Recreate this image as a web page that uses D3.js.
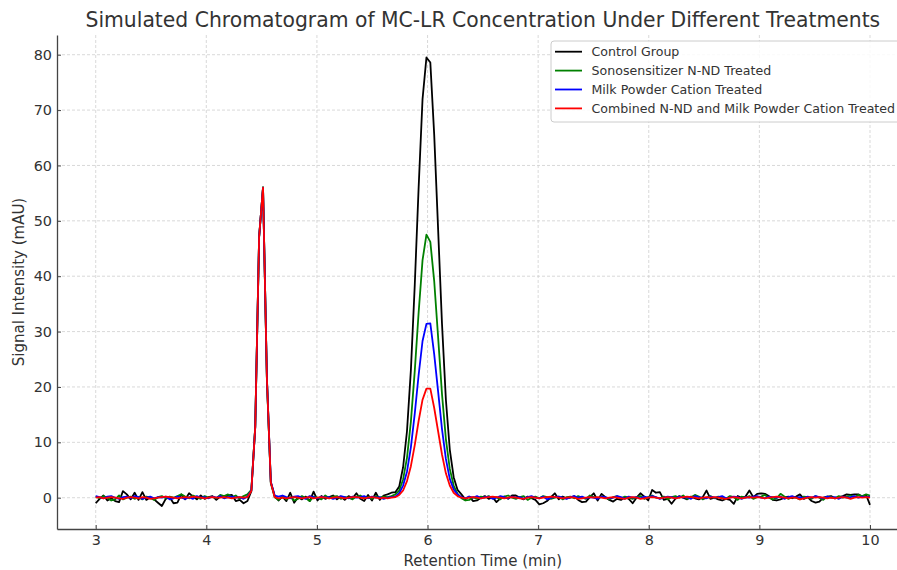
<!DOCTYPE html>
<html>
<head>
<meta charset="utf-8">
<script src="https://cdn.jsdelivr.net/npm/d3@7"></script>
<style>
  body { margin: 0; background: #fff; }
  svg { display: block; font-family: "DejaVu Sans", sans-serif; }
</style>
</head>
<body>
<div id="chart"></div>
<script>
// sampling window (min) - samples are evenly spaced between these
const startTime = 3;
const endTime = 10;

const xTicks = [3, 4, 5, 6, 7, 8, 9, 10];
const yTicks = [0, 10, 20, 30, 40, 50, 60, 70, 80];

const seriesNames = [
  "Control Group",
  "Sonosensitizer N-ND Treated",
  "Milk Powder Cation Treated",
  "Combined N-ND and Milk Powder Cation Treated"
];
const seriesColors = ["#000000", "#008000", "#0000ff", "#ff0000"];

// signal (mAU), one value per sample
const control = [
  -1.0, -0.2, 0.4, -0.5, -0.1, -0.6, -0.8, 1.2, 0.6, -0.3,
  0.9, -0.4, 1.0, -0.4, 0.1, -0.3, -0.9, -1.5, -0.2, 0.1,
  -1.0, -0.9, 0.6, -0.3, 0.8, 0.2, -0.3, 0.4, -0.2, 0.1,
  0.3, -0.4, 0.2, 0.0, 0.4, 0.5, -0.6, -0.4, -1.0, -0.6,
  1.2, 12.8, 47.2, 56.0, 21.5, 2.8, 0.3, -0.5, 0.2, -0.6,
  0.9, -0.9, 0.1, -0.3, 0.2, -0.6, 1.1, -0.5, 0.3, -0.2,
  0.1, 0.4, -0.3, 0.2, -0.4, 0.3, -0.1, 0.8, -0.2, -0.6,
  0.5, -0.5, 0.9, -0.4, 0.4, 0.6, 0.9, 1.0, 2.0, 5.5,
  12.0, 23.0, 38.4, 56.1, 72.0, 79.5, 78.6, 65.5, 48.5, 31.4,
  17.7, 8.7, 3.7, 1.4, 0.6, -0.3, 0.2, -0.6, -0.5, 0.0,
  0.3, -0.2, 0.1, -0.8, -0.1, 0.2, -0.2, 0.4, 0.4, 0.0,
  -0.3, 0.2, -0.1, -0.4, -1.2, -1.0, -0.6, 0.1, 0.8, -0.3,
  0.2, -0.1, 0.0, 0.3, -0.4, -0.8, -0.7, 0.1, 0.8, -0.5,
  0.7, 0.1, -0.4, -0.7, -0.2, -0.4, 0.1, -0.2, -1.0, 0.0,
  0.8, 0.2, -0.5, 1.4, 0.9, 1.0, -0.4, -0.2, -1.1, -0.2,
  0.3, 0.0, -0.3, 0.2, -0.1, -0.3, 0.1, 1.3, -0.2, 0.0,
  -0.3, -0.5, -0.2, -0.4, -1.1, 0.3, 0.0, 0.2, 1.3, 0.1,
  0.7, 0.8, 0.7, 0.3, -0.4, -0.5, -0.3, 0.0, 0.2, -0.1,
  0.2, 0.6, -0.2, 0.1, -0.6, -0.9, -0.7, 0.0, 0.2, 0.3,
  -0.1, 0.1, 0.3, 0.6, 0.5, 0.6, 0.6, 0.2, 0.5, -1.3
];
const sonosensitizer = [
  0.2, -0.1, 0.3, 0.0, -0.5, -0.3, 0.4, -0.3, 0.0, 0.2,
  -0.2, 0.1, -0.3, 0.2, 0.0, -0.4, 0.1, 0.3, -0.1, 0.2,
  0.0, 0.3, 0.6, 0.2, -0.1, 0.4, 0.1, -0.2, 0.3, 0.0,
  0.2, -0.1, 0.5, 0.3, 0.6, 0.1, 0.4, -0.2, 0.3, 0.6,
  1.4, 12.9, 47.0, 56.1, 21.3, 2.6, 0.1, -0.4, 0.2, -0.3,
  0.1, -0.5, -0.2, 0.3, -0.1, -0.6, 0.2, 0.0, -0.3, 0.4,
  -0.1, 0.2, 0.3, -0.2, 0.1, 0.0, -0.3, 0.2, 0.4, -0.1,
  0.1, -0.2, 0.3, 0.0, 0.2, 0.1, 0.3, 0.6, 1.3, 3.3,
  7.2, 13.7, 22.9, 33.5, 42.9, 47.5, 46.2, 39.1, 29.0, 18.7,
  10.6, 5.2, 2.2, 0.7, -0.1, -0.5, -0.4, 0.1, -0.2, 0.2,
  0.0, 0.3, -0.1, 0.1, -0.3, 0.2, 0.4, 0.0, -0.2, 0.1,
  0.3, -0.4, 0.0, 0.2, -0.1, 0.3, 0.1, -0.2, 0.0, 0.2,
  -0.3, 0.1, 0.2, -0.1, 0.3, 0.0, -0.2, 0.4, 0.1, -0.1,
  0.2, 0.0, -0.3, 0.1, 0.3, -0.1, 0.2, 0.0, -0.2, 0.1,
  0.3, -0.2, 0.1, 0.4, 0.0, -0.1, 0.2, -0.3, 0.1, 0.3,
  0.0, 0.4, -0.2, 0.1, 0.5, 0.2, -0.3, 0.0, 0.3, -0.1,
  0.2, 0.0, -0.2, 0.3, 0.1, -0.4, 0.2, 0.0, 0.3, -0.2,
  0.1, 0.2, 0.5, 0.0, -0.3, -0.1, 0.7, 0.2, -0.2, 0.1,
  0.0, -0.3, 0.2, 0.1, -0.2, 0.3, 0.0, -0.4, 0.2, 0.1,
  -0.1, 0.3, 0.0, 0.2, 0.4, 0.1, 0.5, 0.3, 0.6, 0.4
];
const milkPowder = [
  0.3, 0.1, -0.1, 0.2, 0.3, 0.0, -0.2, 0.1, 0.2, -0.1,
  0.3, 0.1, -0.2, 0.0, 0.2, -0.1, 0.1, 0.0, 0.2, -0.3,
  -0.1, 0.2, 0.0, -0.2, 0.1, -0.2, 0.3, 0.0, 0.1, -0.1,
  0.2, 0.0, 0.3, -0.1, 0.1, 0.2, 0.0, 0.1, -0.2, 0.2,
  1.3, 12.7, 47.1, 56.0, 21.6, 2.9, 0.4, 0.2, 0.4, 0.1,
  -0.1, 0.2, 0.3, 0.0, -0.2, 0.3, 0.1, -0.1, 0.2, 0.0,
  0.1, -0.2, 0.0, 0.3, 0.1, -0.1, 0.2, 0.0, 0.1, 0.3,
  -0.1, 0.2, 0.0, 0.1, -0.2, 0.0, 0.1, 0.2, 0.8, 2.2,
  4.7, 9.1, 15.2, 22.2, 28.3, 31.4, 31.5, 25.9, 19.2, 12.4,
  7.0, 3.4, 1.5, 0.6, 0.1, -0.1, 0.2, 0.0, 0.3, -0.1,
  0.1, 0.2, -0.2, 0.0, 0.3, 0.1, -0.1, 0.2, 0.0, 0.1,
  -0.2, 0.1, 0.3, 0.0, -0.1, 0.2, -0.3, 0.0, 0.1, 0.2,
  0.0, -0.2, 0.1, 0.3, 0.0, 0.2, -0.1, 0.1, 0.0, -0.2,
  0.2, 0.1, -0.1, 0.0, 0.3, 0.1, -0.2, 0.2, 0.0, 0.1,
  -0.1, 0.2, 0.0, 0.3, 0.1, -0.2, 0.0, 0.2, 0.1, -0.1,
  0.2, 0.0, 0.1, -0.2, 0.3, 0.1, 0.0, -0.1, 0.2, 0.0,
  0.1, 0.3, -0.1, 0.0, 0.2, 0.1, -0.2, 0.1, 0.0, 0.2,
  0.3, 0.0, -0.1, 0.2, 0.1, 0.0, 0.2, -0.2, 0.1, 0.3,
  0.0, 0.1, -0.1, 0.2, 0.0, 0.3, 0.1, -0.1, 0.2, 0.0,
  0.1, -0.2, 0.2, 0.0, 0.1, 0.3, 0.0, 0.2, 0.1, 0.2
];
const combined = [
  0.0, 0.1, -0.1, 0.0, 0.1, 0.0, -0.1, -0.2, 0.0, 0.1,
  0.0, -0.1, 0.1, 0.0, -0.2, -0.1, 0.0, 0.1, 0.2, 0.1,
  0.0, -0.1, 0.0, 0.1, 0.0, 0.2, 0.1, 0.0, -0.1, 0.0,
  0.1, 0.0, 0.0, 0.1, 0.0, -0.1, 0.0, 0.1, 0.0, 0.1,
  1.2, 12.8, 47.2, 56.0, 21.5, 2.8, 0.1, -0.1, 0.0, -0.1,
  0.0, 0.1, 0.0, -0.1, 0.0, 0.1, -0.1, 0.0, 0.1, 0.0,
  -0.1, 0.0, 0.1, 0.0, -0.1, 0.0, 0.1, 0.1, 0.0, -0.1,
  0.0, 0.1, 0.0, -0.1, 0.0, -0.1, 0.0, 0.1, 0.5, 1.3,
  3.0, 5.7, 9.5, 13.9, 17.7, 19.7, 19.7, 16.2, 12.0, 7.8,
  4.4, 2.2, 0.9, 0.3, 0.0, -0.1, 0.0, 0.1, 0.0, -0.1,
  0.0, 0.1, 0.2, 0.1, 0.0, -0.1, 0.0, 0.1, 0.0, -0.1,
  -0.2, 0.0, 0.1, 0.0, -0.1, 0.0, 0.1, 0.2, 0.1, 0.0,
  -0.1, 0.0, 0.1, 0.0, -0.2, -0.1, 0.0, 0.1, 0.0, 0.1,
  0.0, -0.1, 0.0, 0.1, 0.0, -0.1, -0.2, 0.0, 0.1, 0.0,
  -0.2, -0.1, 0.0, 0.1, 0.0, -0.1, 0.0, 0.1, 0.0, -0.1,
  0.0, 0.1, 0.2, 0.1, 0.0, -0.1, 0.0, 0.1, 0.0, 0.1,
  0.0, -0.1, -0.2, 0.0, 0.1, 0.0, -0.1, 0.0, 0.1, 0.0,
  0.1, 0.0, -0.1, 0.0, 0.1, 0.2, 0.1, 0.0, -0.1, 0.0,
  0.0, -0.3, -0.1, 0.0, 0.1, 0.0, 0.1, 0.0, -0.1, 0.0,
  -0.1, 0.0, 0.1, 0.0, -0.2, 0.0, 0.1, 0.0, 0.1, 0.0
];

const seriesValues = [control, sonosensitizer, milkPowder, combined];

const width = 897, height = 570;
const margin = { LEFT: 57, TOP: 35, BOTTOM: 41 };
const plotRight = 908.7; // axes run past the right edge of the picture

const svg = d3.select("#chart")
  .append("svg")
  .attr("width", width)
  .attr("height", height);

const xScale = d3.scaleLinear()
  .domain([2.65, 10.35])
  .range([margin.LEFT, plotRight]);

const yScale = d3.scaleLinear()
  .domain([-5.65, 83.56])
  .range([height - margin.BOTTOM, margin.TOP]);

// sample index -> retention time
const timeAt = d3.scaleLinear()
  .domain([0, control.length - 1])
  .range([startTime, endTime]);

const textColor = "#333333";

// grid
const grid = svg.append("g").attr("class", "grid");
grid.selectAll(".vgrid")
  .data(xTicks)
  .enter()
  .append("line")
  .attr("x1", d => xScale(d)).attr("x2", d => xScale(d))
  .attr("y1", yScale.range()[1]).attr("y2", yScale.range()[0])
  .attr("stroke", "#cfcfcf")
  .attr("stroke-width", 0.8)
  .attr("stroke-dasharray", "3,2");
grid.selectAll(".hgrid")
  .data(yTicks)
  .enter()
  .append("line")
  .attr("x1", margin.LEFT).attr("x2", plotRight)
  .attr("y1", d => yScale(d)).attr("y2", d => yScale(d))
  .attr("stroke", "#cfcfcf")
  .attr("stroke-width", 0.8)
  .attr("stroke-dasharray", "3,2");

// lines
const line = d3.line()
  .x((d, i) => xScale(timeAt(i)))
  .y(d => yScale(d));

svg.append("g")
  .selectAll("path")
  .data(seriesValues)
  .enter()
  .append("path")
  .attr("d", d => line(d))
  .attr("fill", "none")
  .attr("stroke", (d, i) => seriesColors[i])
  .attr("stroke-width", 1.8)
  .attr("stroke-linejoin", "round");

// axes (ticks pointing inward)
const xAxisGroup = svg.append("g")
  .attr("transform", `translate(0, ${yScale.range()[0]})`)
  .call(d3.axisBottom(xScale)
    .tickValues(xTicks)
    .tickSizeInner(-4)
    .tickSizeOuter(0)
    .tickPadding(6)
    .tickFormat(d3.format("d")));

const yAxisGroup = svg.append("g")
  .attr("transform", `translate(${margin.LEFT}, 0)`)
  .call(d3.axisLeft(yScale)
    .tickValues(yTicks)
    .tickSizeInner(-4)
    .tickSizeOuter(0)
    .tickPadding(5)
    .tickFormat(d3.format("d")));

[xAxisGroup, yAxisGroup].forEach(g => {
  g.select(".domain").attr("stroke", "#444").attr("stroke-width", 1.3);
  g.selectAll(".tick line").attr("stroke", "#444").attr("stroke-width", 1);
  g.selectAll(".tick text")
    .attr("fill", textColor)
    .style("font-family", "DejaVu Sans")
    .style("font-size", "14.4px");
});

// axis labels
svg.append("text")
  .attr("x", (margin.LEFT + plotRight) / 2)
  .attr("y", 565.5)
  .attr("text-anchor", "middle")
  .attr("fill", textColor)
  .style("font-size", "15px")
  .text("Retention Time (min)");

svg.append("text")
  .attr("transform", `translate(19, ${(yScale.range()[0] + yScale.range()[1]) / 2}) rotate(-90)`)
  .attr("dy", "0.35em")
  .attr("text-anchor", "middle")
  .attr("fill", textColor)
  .style("font-size", "15px")
  .text("Signal Intensity (mAU)");

// title, sized to span the same width as in the figure
const title = svg.append("text")
  .attr("x", (margin.LEFT + plotRight) / 2)
  .attr("y", 27)
  .attr("text-anchor", "middle")
  .attr("fill", textColor)
  .style("font-size", "19px")
  .text("Simulated Chromatogram of MC-LR Concentration Under Different Treatments");
const titleLen = title.node().getComputedTextLength();
title.style("font-size", (19 * 795 / titleLen).toFixed(2) + "px");

// legend
const legend = svg.append("g").attr("class", "legend");
legend.append("rect")
  .attr("x", 551).attr("y", 41)
  .attr("width", 360).attr("height", 81)
  .attr("rx", 3)
  .attr("fill", "#ffffff").attr("fill-opacity", 0.85)
  .attr("stroke", "#cccccc").attr("stroke-width", 1);

const items = legend.selectAll(".item")
  .data(seriesNames)
  .enter()
  .append("g")
  .attr("class", "item")
  .attr("transform", (d, i) => `translate(0, ${51.7 + i * 18.9})`);

items.append("line")
  .attr("x1", 555).attr("x2", 582)
  .attr("stroke", (d, i) => seriesColors[i])
  .attr("stroke-width", 1.8);

items.append("text")
  .attr("x", 591.5)
  .attr("dy", "0.35em")
  .attr("fill", textColor)
  .style("font-size", "12.6px")
  .text(d => d);
</script>
</body>
</html>
